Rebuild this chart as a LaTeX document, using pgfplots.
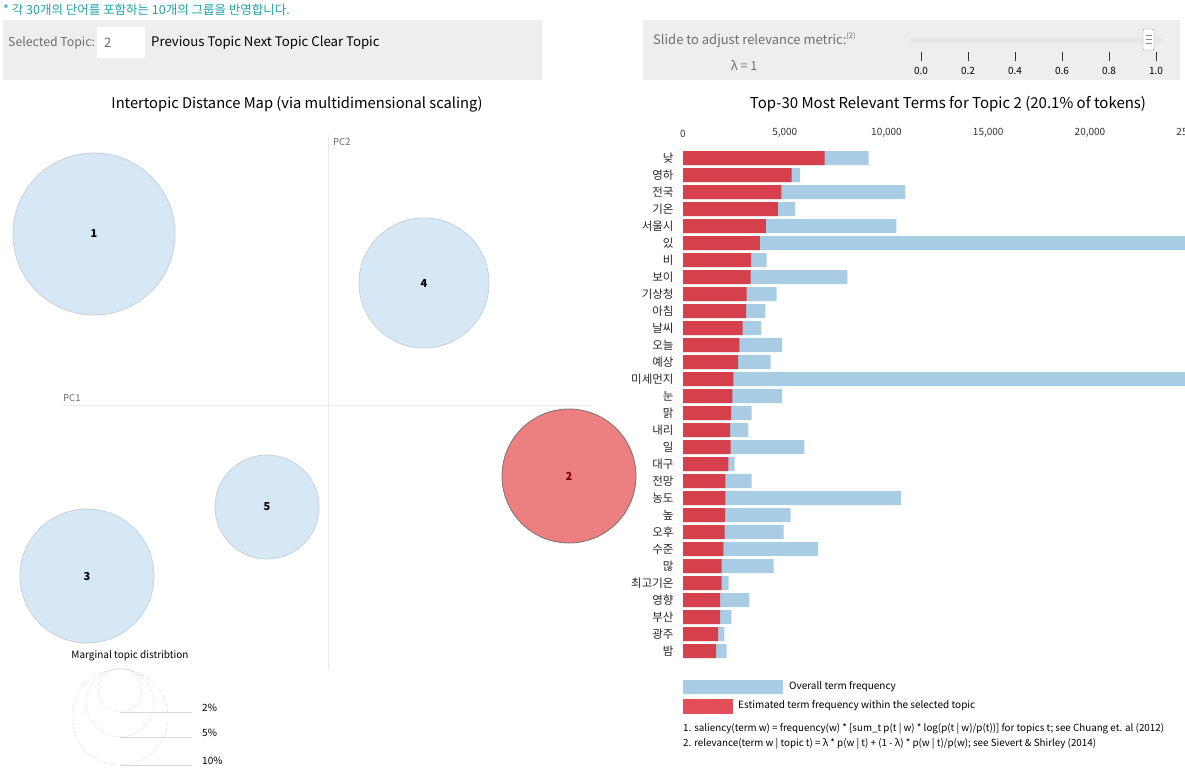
\documentclass[border=0pt]{standalone}
\usepackage{fontspec}
\setmainfont{Noto Sans CJK KR}
\usepackage{pgfplots}
\pgfplotsset{compat=1.18}
\usepackage{pgfplotstable}

\definecolor{barred}{RGB}{214,64,76}
\definecolor{legred}{RGB}{228,78,88}
\definecolor{barblue}{RGB}{167,204,228}
\definecolor{bubblue}{RGB}{214,232,245}
\definecolor{bubedge}{RGB}{198,208,218}
\definecolor{bubred}{RGB}{236,128,128}
\definecolor{panelgray}{RGB}{238,238,238}
\definecolor{tealc}{RGB}{30,160,170}
\definecolor{txtgray}{RGB}{110,110,110}

\pgfplotstableread{
idx term red blue
0 낮 6963 9120
1 영하 5332 5759
2 전국 4836 10929
3 기온 4660 5493
4 서울시 4077 10487
5 있 3774 27500
6 비 3342 4112
7 보이 3326 8075
8 기상청 3129 4603
9 아침 3096 4045
10 날씨 2932 3849
11 오늘 2768 4865
12 예상 2703 4308
13 미세먼지 2473 27000
14 눈 2424 4865
15 맑 2359 3375
16 내리 2310 3210
17 일 2343 5961
18 대구 2228 2539
19 전망 2080 3375
20 농도 2080 10713
21 높 2064 5292
22 오후 2047 4947
23 수준 1982 6634
24 많 1900 4456
25 최고기온 1900 2244
26 영향 1818 3259
27 부산 1818 2375
28 광주 1720 2031
29 밤 1622 2146
}\terms

\begin{document}
\begin{tikzpicture}
\path[use as bounding box] (0,0) rectangle (1185pt,-769pt);

% ---------- header ----------
\node[anchor=west, text=tealc, font=\fontsize{12.5}{14}\selectfont, inner sep=0pt] at (3pt,-10pt) {* 각 30개의 단어를 포함하는 10개의 그룹을 반영합니다.};
\fill[panelgray] (3pt,-20pt) rectangle (542pt,-80pt);
\fill[white] (97pt,-27pt) rectangle (145pt,-58pt);
\node[anchor=west, text=txtgray, font=\fontsize{12.3}{14}\selectfont, inner sep=0pt] at (8pt,-43pt) {Selected Topic:};
\node[anchor=west, text=txtgray, font=\fontsize{13}{14}\selectfont, inner sep=0pt] at (104pt,-43pt) {2};
\node[anchor=west, font=\fontsize{13.2}{15}\selectfont, inner sep=0pt] at (151pt,-43pt) {Previous Topic Next Topic Clear Topic};

\fill[panelgray] (643pt,-20pt) rectangle (1180pt,-80pt);
\node[anchor=west, text=txtgray, font=\fontsize{13}{15}\selectfont, inner sep=0pt] at (653pt,-40pt) {Slide to adjust relevance metric:\raisebox{0.45em}{\fontsize{7.5}{8}\selectfont(2)}};
\node[text=txtgray, font=\fontsize{12.5}{14}\selectfont, inner sep=0pt] at (744pt,-65pt) {λ = 1};
\draw[line width=5pt, color=black!10, line cap=round] (913pt,-40pt) -- (1160pt,-40pt);
\foreach \i/\l in {0/0.0,1/0.2,2/0.4,3/0.6,4/0.8,5/1.0}{
  \draw[black!80] ({921pt+47pt*\i},-52pt) -- ++(0,-9pt);
  \node[font=\fontsize{10}{12}\selectfont, inner sep=0pt] at ({921pt+47pt*\i},-71pt) {\l};
}
\filldraw[fill=white, draw=black!45, rounded corners=1pt] (1143pt,-29pt) rectangle (1154pt,-50pt);
\foreach \yy in {35,39,43}{\draw[black!45] (1145.5pt,-\yy pt) -- (1151.5pt,-\yy pt);}

% ---------- titles ----------
\node[font=\fontsize{14.7}{17}\selectfont, inner sep=0pt] at (297pt,-104pt) {Intertopic Distance Map (via multidimensional scaling)};
\node[font=\fontsize{15}{17}\selectfont, inner sep=0pt] at (948pt,-104pt) {Top-30 Most Relevant Terms for Topic 2 (20.1\% of tokens)};

% ---------- intertopic distance map ----------
\begin{axis}[
  at={(63pt,-670pt)}, anchor=south west, scale only axis,
  width=529pt, height=535pt,
  xmin=-265, xmax=264, ymin=-265, ymax=270,
  axis lines=middle, axis line style={draw=black!8, -},
  xtick=\empty, ytick=\empty, clip=false,
  every node near coord/.append style={anchor=center, font=\fontsize{11}{12}\selectfont\bfseries},
]
\addplot[only marks, mark=*, mark size=81pt, mark options={fill=bubblue, draw=bubedge, line width=0.8pt},
  nodes near coords={1}] coordinates {(-234,171)};
\addplot[only marks, mark=*, mark size=65pt, mark options={fill=bubblue, draw=bubedge, line width=0.8pt},
  nodes near coords={4}] coordinates {(96,122)};
\addplot[only marks, mark=*, mark size=52pt, mark options={fill=bubblue, draw=bubedge, line width=0.8pt},
  nodes near coords={5}] coordinates {(-61,-102)};
\addplot[only marks, mark=*, mark size=67pt, mark options={fill=bubblue, draw=bubedge, line width=0.8pt},
  nodes near coords={3}] coordinates {(-241,-171)};
\addplot[only marks, mark=*, mark size=67pt, mark options={fill=bubred, draw=black!55, line width=0.8pt},
  nodes near coords={2}, every node near coord/.append style={text=red!50!black}] coordinates {(241,-71)};
% marginal topic distribution legend
\addplot[only marks, mark=o, mark size=22pt, mark options={draw=black!30, densely dotted}] coordinates {(-208,-285)};
\addplot[only marks, mark=o, mark size=34pt, mark options={draw=black!30, densely dotted}] coordinates {(-208,-298)};
\addplot[only marks, mark=o, mark size=48pt, mark options={draw=black!30, densely dotted}] coordinates {(-208,-312)};
\addplot[black!15, no marks] coordinates {(-208,-307) (-136,-307)};
\addplot[black!15, no marks] coordinates {(-208,-332) (-136,-332)};
\addplot[black!15, no marks] coordinates {(-208,-360) (-136,-360)};
\node[anchor=west, font=\fontsize{10}{12}\selectfont, inner sep=0pt] at (axis cs:-126,-303) {2\%};
\node[anchor=west, font=\fontsize{10}{12}\selectfont, inner sep=0pt] at (axis cs:-126,-328) {5\%};
\node[anchor=west, font=\fontsize{10}{12}\selectfont, inner sep=0pt] at (axis cs:-126,-356) {10\%};
\node[font=\fontsize{10}{12}\selectfont, inner sep=0pt] at (axis cs:-198,-251) {Marginal topic distribtion};
\node[anchor=south west, text=txtgray, font=\fontsize{9.5}{11}\selectfont, inner sep=0pt] at (axis cs:-265,3) {PC1};
\node[anchor=north west, text=txtgray, font=\fontsize{9.5}{11}\selectfont, inner sep=0pt] at (axis cs:5,267) {PC2};
\end{axis}

% ---------- bar chart ----------
\begin{axis}[
  at={(683pt,-149.5pt)}, anchor=north west, scale only axis,
  width=518.9pt, height=510pt,
  xmin=0, xmax=25500, ymin=-0.5, ymax=29.5, y dir=reverse,
  axis line style={draw=none}, tick style={draw=none},
  xticklabel pos=upper, scaled x ticks=false,
  xtick={0,5000,10000,15000,20000,25000},
  xticklabels={0,{5,000},{10,000},{15,000},{20,000},{25,000}},
  xticklabel style={font=\fontsize{10}{12}\selectfont, text=black!80, inner sep=0pt, anchor=south, yshift=12pt},
  ytick={0,...,29},
  yticklabels from table={\terms}{term},
  yticklabel style={font=\fontsize{11.5}{13}\selectfont, text=black!85, inner sep=0pt, anchor=east, xshift=-5pt},
  xbar, bar shift=0pt, bar width=14pt,
]
\addplot[fill=barblue, draw=none] table[x=blue, y=idx]{\terms};
\addplot[fill=barred, draw=none] table[x=red, y=idx]{\terms};
\end{axis}

% ---------- legend / notes ----------
\fill[barblue] (683pt,-680pt) rectangle (783pt,-694pt);
\node[anchor=west, font=\fontsize{10}{12}\selectfont, inner sep=0pt] at (789pt,-687pt) {Overall term frequency};
\fill[legred] (683pt,-699pt) rectangle (733pt,-714pt);
\node[anchor=west, font=\fontsize{10}{12}\selectfont, inner sep=0pt] at (738pt,-706pt) {Estimated term frequency within the selected topic};
\node[anchor=west, font=\fontsize{9.8}{12}\selectfont, inner sep=0pt] at (683pt,-729pt) {1. saliency(term w) = frequency(w) * [sum\_t p(t | w) * log(p(t | w)/p(t))] for topics t; see Chuang et. al (2012)};
\node[anchor=west, font=\fontsize{9.8}{12}\selectfont, inner sep=0pt] at (683pt,-744pt) {2. relevance(term w | topic t) = λ * p(w | t) + (1 - λ) * p(w | t)/p(w); see Sievert \& Shirley (2014)};
\end{tikzpicture}
\end{document}
